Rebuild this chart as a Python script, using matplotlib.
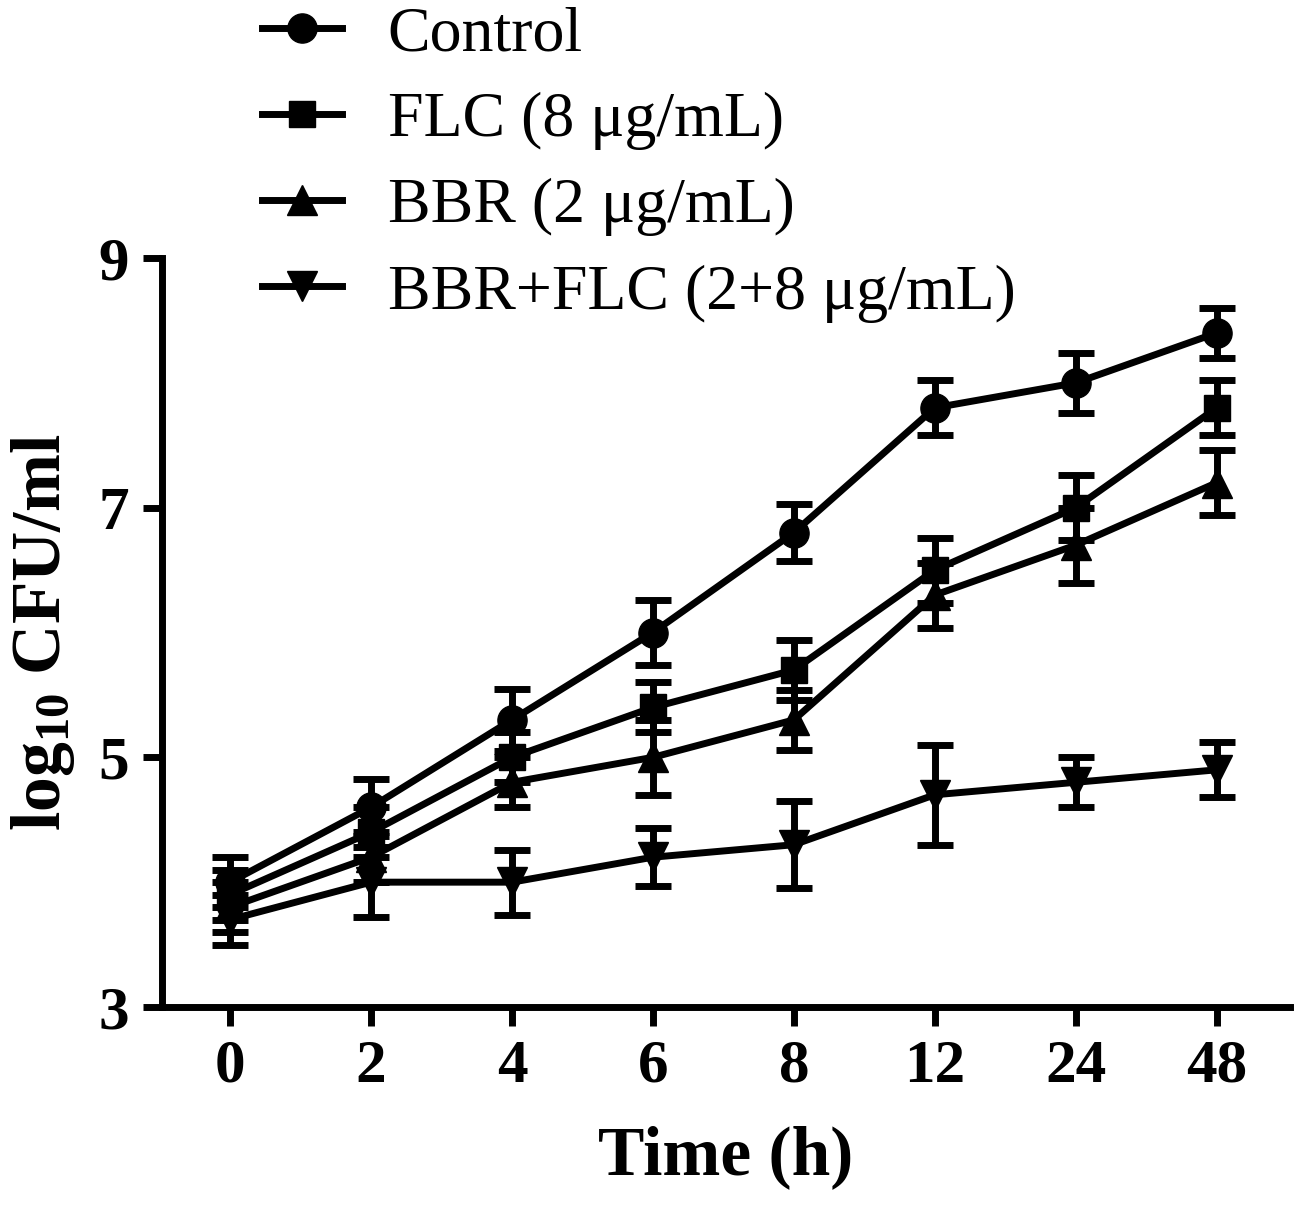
import matplotlib
matplotlib.use('Agg')
import matplotlib.pyplot as plt
import numpy as np

# time points (h) and log10 CFU/ml readings, mean and error
times = ['0', '2', '4', '6', '8', '12', '24', '48']
control = [4.0, 4.6, 5.3, 6.0, 6.8, 7.8, 8.0, 8.4]
control_err = [0.2, 0.23, 0.25, 0.26, 0.23, 0.22, 0.24, 0.2]
flc = [3.9, 4.4, 5.0, 5.4, 5.7, 6.5, 7.0, 7.8]
flc_err = [0.2, 0.2, 0.2, 0.2, 0.24, 0.26, 0.26, 0.22]
bbr = [3.8, 4.2, 4.8, 5.0, 5.3, 6.3, 6.7, 7.2]
bbr_err = [0.2, 0.2, 0.2, 0.3, 0.24, 0.26, 0.3, 0.26]
combo = [3.7, 4.0, 4.0, 4.2, 4.3, 4.7, 4.8, 4.9]
combo_err = [0.2, 0.28, 0.26, 0.23, 0.35, 0.4, 0.2, 0.22]

labels = ['Control', 'FLC (8 \u03bcg/mL)', 'BBR (2 \u03bcg/mL)',
          'BBR+FLC (2+8 \u03bcg/mL)']
markers = ['o', 's', '^', 'v']

plt.rcParams['font.family'] = ['Liberation Serif', 'DejaVu Serif']
plt.rcParams['mathtext.fontset'] = 'custom'
plt.rcParams['mathtext.rm'] = 'Liberation Serif'
plt.rcParams['mathtext.bf'] = 'Liberation Serif:bold'

fig = plt.figure(figsize=(13, 12.05), dpi=100)
ax = fig.add_axes([162 / 1300, 1 - 1007 / 1205,
                   (1290 - 162) / 1300, (1007 - 258) / 1205])

x = np.arange(len(times))
lw = 5
handles = []
for vals, errs, mk, lab in zip([control, flc, bbr, combo],
                               [control_err, flc_err, bbr_err, combo_err],
                               markers, labels):
    ax.errorbar(x, vals, yerr=errs, fmt='none', ecolor='black',
                elinewidth=lw, capsize=13, capthick=lw, zorder=2)
    ms = 19 if mk == 's' else 21
    h, = ax.plot(x, vals, color='black', lw=lw, marker=mk, ms=ms,
                 mec='black', mfc='black', label=lab, zorder=3)
    handles.append(h)

ax.set_xlim(-0.483, 7.52)
ax.set_ylim(3, 9)
ax.set_xticks(x)
ax.set_xticklabels(times)
ax.set_yticks([3, 5, 7, 9])

for side in ['top', 'right']:
    ax.spines[side].set_visible(False)
for side in ['left', 'bottom']:
    ax.spines[side].set_linewidth(5)

ax.tick_params(axis='both', direction='out', length=14, width=5,
               labelsize=44)
ax.tick_params(axis='x', pad=9)
ax.tick_params(axis='y', pad=10)
for t in ax.get_xticklabels() + ax.get_yticklabels():
    t.set_fontweight('bold')

ax.set_xlabel('Time (h)', fontsize=50, fontweight='bold', labelpad=22)
ax.set_ylabel(r'$\mathbf{log_{10}}$ CFU/ml', fontsize=50, fontweight='bold')
ax.yaxis.set_label_coords(-0.075, 0.5)

fig.legend(handles=handles, loc='center left',
           bbox_to_anchor=(262 / 1300, 1 - 164 / 1205),
           frameon=False, fontsize=46, handlelength=1.25,
           handletextpad=0.72, labelspacing=0.43, borderpad=0,
           borderaxespad=0)

fig.savefig('out.png', dpi=100)
